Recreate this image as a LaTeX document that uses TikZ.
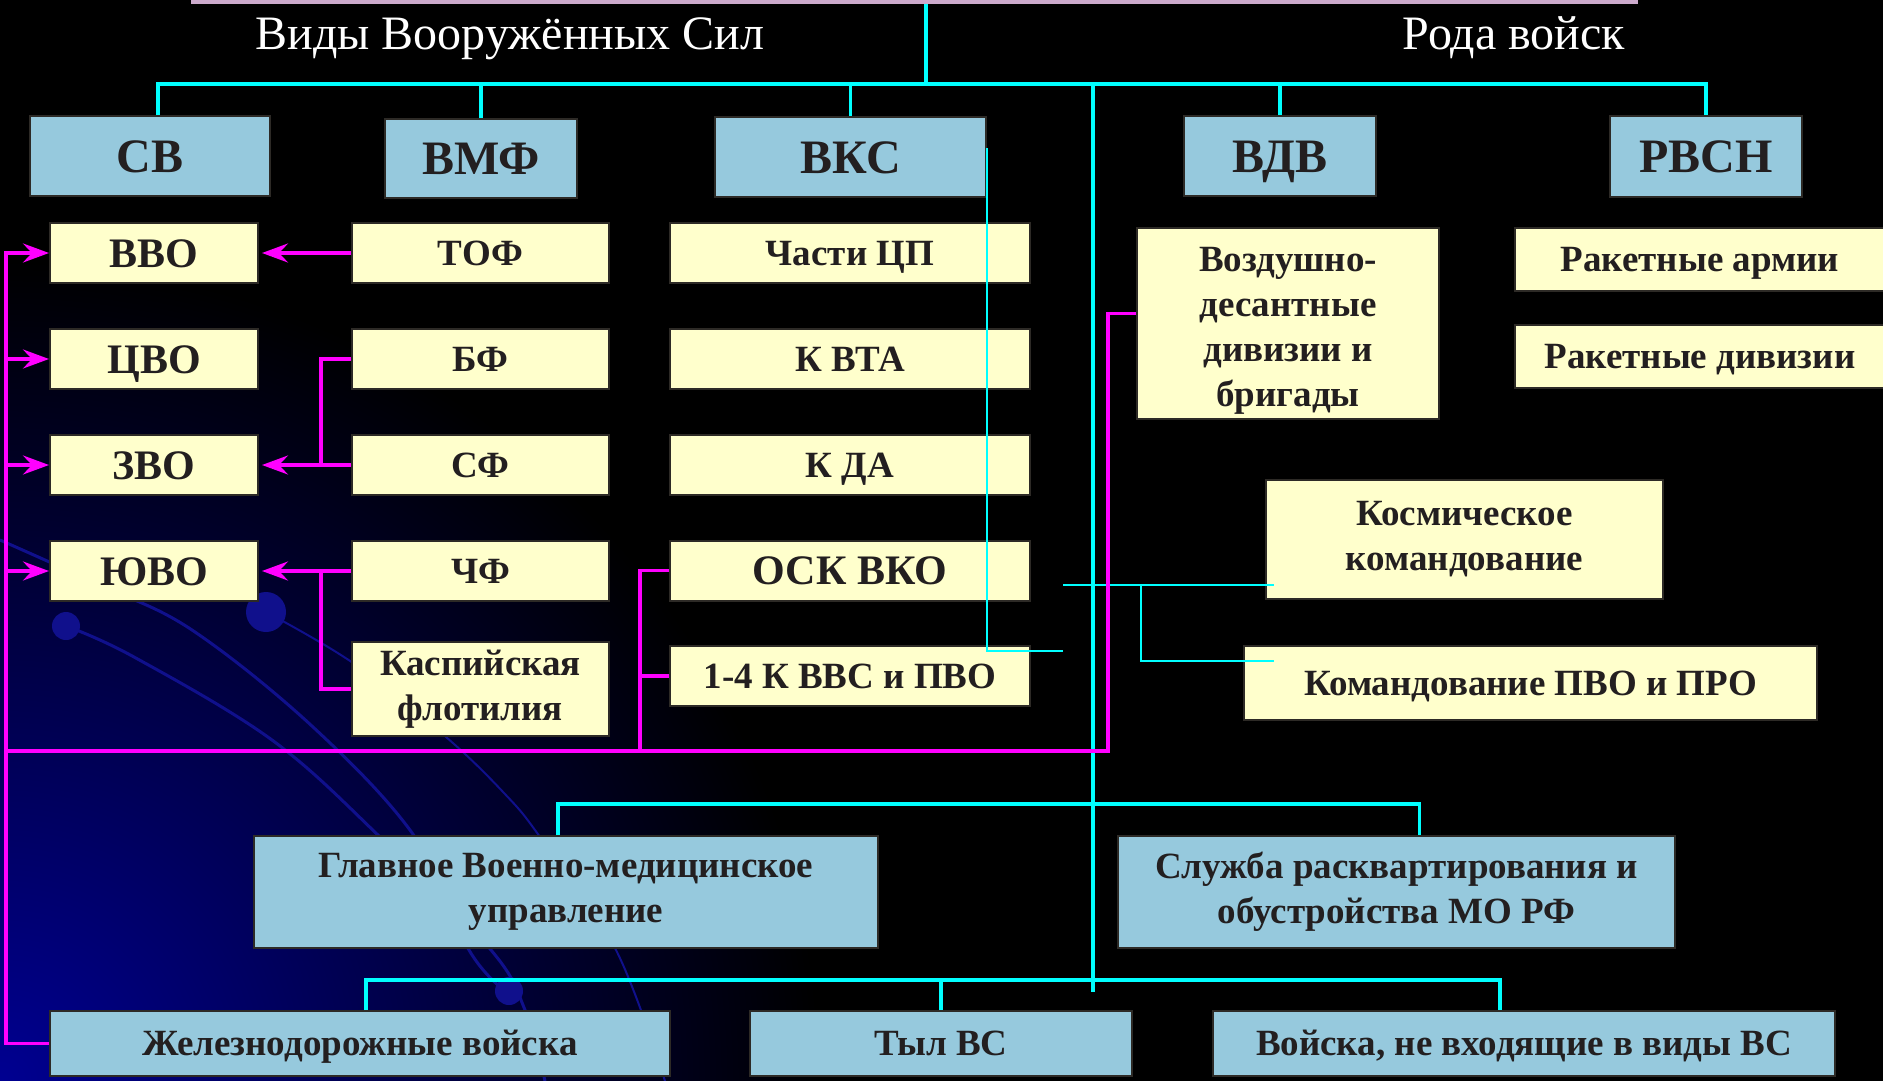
\documentclass[tikz,border=0pt]{standalone}
\usepackage{fontspec}
\setmainfont{Liberation Serif}
\usepackage{tikz}
\usetikzlibrary{positioning,arrows.meta,calc}
\definecolor{vidblue}{RGB}{150,201,221}
\definecolor{partyellow}{RGB}{255,255,204}
\definecolor{boxline}{RGB}{45,42,38}
\definecolor{ink}{RGB}{35,31,32}
\definecolor{headpink}{RGB}{204,170,204}
\definecolor{navy}{RGB}{0,0,145}
\definecolor{decoblue}{RGB}{16,16,140}
\definecolor{linecyan}{RGB}{0,255,255}
\definecolor{linemag}{RGB}{255,0,255}

\begin{document}
\begin{tikzpicture}[x=1pt, y=-1pt,
    vid/.style={draw=boxline, line width=2pt, fill=vidblue, text=ink, inner sep=0pt, align=center, font=\bfseries\fontsize{37}{45}\selectfont},
    vidtop/.style={font=\bfseries\fontsize{48}{54}\selectfont, text height=32pt, text depth=0pt},
    part/.style={draw=boxline, line width=2pt, fill=partyellow, text=ink, inner sep=0pt, align=center, font=\bfseries\fontsize{37}{45}\selectfont},
    okrug/.style={font=\bfseries\fontsize{42}{48}\selectfont, text height=28pt, text depth=0pt},
    oneline/.style={text height=24.5pt, text depth=0pt},
    heading/.style={text=white, anchor=base, inner sep=0pt, font=\fontsize{48}{52}\selectfont},
    trunk/.style={linecyan, line width=3.5pt},
    thinlink/.style={linecyan, line width=1.6pt},
    mlink/.style={linemag, line width=3.5pt},
    marr/.style={-{Stealth[length=26pt,width=19pt,inset=9pt]}},
    deco/.style={decoblue, line width=3pt},
    blob/.style={fill=decoblue}]
    \useasboundingbox (0,0) rectangle (1883,1081);
    % Фон
    \fill[black] (0,0) rectangle (1883,1081);
    \begin{scope}
        \clip (0,0) rectangle (1883,1081);
        \shade[inner color=navy, outer color=black] (0,1081) circle (820);
        \draw[deco] plot[smooth, tension=0.6] coordinates {(0,540) (100,585) (192,630) (313,727) (415,837) (469,950) (504,990)};
        \draw[deco] plot[smooth, tension=0.6] coordinates {(66,626) (134,657) (272,740) (380,837) (491,950) (525,1010) (545,1081)};
        \draw[deco, line width=2pt] plot[smooth, tension=0.6] coordinates {(266,612) (353,663) (446,737) (504,793) (540,837) (616,950) (665,1081)};
        \fill[blob] (66,626) circle (14);
        \fill[blob] (266,612) circle (20);
        \fill[blob] (509,991) circle (14);
    \end{scope}
    % Заголовки
    \node[fill=headpink, minimum width=1447pt, minimum height=8pt, inner sep=0pt] (head) at (914.5,0) {};
    \node[heading] (tvid) at (510,50) {Виды Вооружённых Сил};
    \node[heading] (trod) at (1514,50) {Рода войск};
    % Виды и рода войск
    \node[vid, vidtop, minimum width=240pt, minimum height=80pt] (sv) at (150,156) {СВ};
    \node[vid, vidtop, minimum width=192pt, minimum height=79pt] (vmf) at (481,158.5) {ВМФ};
    \node[vid, vidtop, minimum width=271pt, minimum height=80pt] (vks) at (850.5,157) {ВКС};
    \node[vid, vidtop, minimum width=192pt, minimum height=80pt] (vdv) at (1280,156) {ВДВ};
    \node[vid, vidtop, minimum width=192pt, minimum height=81pt] (rvsn) at (1706,156.5) {РВСН};
    % Округа
    \foreach \n/\t [count=\i from 0] in {vvo/ВВО, cvo/ЦВО, zvo/ЗВО, yuvo/ЮВО}
        \node[part, okrug, minimum width=208pt, minimum height=60pt] (\n) at (154,253+106*\i) {\t};
    % Флоты
    \foreach \n/\t [count=\i from 0] in {tof/ТОФ, bf/БФ, sf/СФ, chf/ЧФ}
        \node[part, oneline, minimum width=257pt, minimum height=60pt] (\n) at (480.5,253+106*\i) {\t};
    \node[part, minimum width=257pt, minimum height=94pt] (kasp) at (480.5,689) {Каспийская\\флотилия};
    % ВКС
    \foreach \n/\t [count=\i from 0] in {chcp/Части ЦП, kvta/К ВТА, kda/К ДА}
        \node[part, oneline, minimum width=360pt, minimum height=60pt] (\n) at (850,253+106*\i) {\t};
    \node[part, okrug, minimum width=360pt, minimum height=60pt] (osk) at (850,570.5) {ОСК ВКО};
    \node[part, oneline, minimum width=360pt, minimum height=60pt] (k14) at (850,676) {1-4 К ВВС и ПВО};
    % ВДВ, РВСН
    \node[part, minimum width=302pt, minimum height=191pt] (vdd) at (1288,323.5) {\rule{0pt}{39pt}Воздушно-\\десантные\\дивизии и\\бригады};
    \node[part, oneline, minimum width=370pt, minimum height=63pt] (rarm) at (1700,259.5) {Ракетные армии};
    \node[part, oneline, minimum width=370pt, minimum height=63pt] (rdiv) at (1700,356.5) {Ракетные дивизии};
    \node[part, minimum width=397pt, minimum height=119pt] (kosm) at (1464.5,539.5) {Космическое\\командование};
    \node[part, oneline, minimum width=573pt, minimum height=74pt] (pvo) at (1530.5,683) {Командование ПВО и ПРО};
    % Нижние блоки
    \node[vid, minimum width=624pt, minimum height=112pt] (gvmu) at (566,892) {Главное Военно-медицинское\\управление};
    \node[vid, minimum width=557pt, minimum height=112pt] (skv) at (1396.5,892) {Служба расквартирования и\\обустройства МО РФ};
    \node[vid, oneline, minimum width=620pt, minimum height=65pt] (zhd) at (360,1043.5) {Железнодорожные войска};
    \node[vid, oneline, minimum width=382pt, minimum height=65pt] (tyl) at (941,1043.5) {Тыл ВС};
    \node[vid, oneline, minimum width=622pt, minimum height=65pt] (vne) at (1524,1043.5) {Войска, не входящие в виды ВС};
    % Голубые связи
    \coordinate (hub) at (926,84);
    \draw[trunk] (head.south -| hub) -- (hub);
    \draw[trunk] ([xshift=8pt]sv.north) |- (hub) -| (rvsn.north);
    \foreach \n in {vmf,vks,vdv}
        \draw[trunk] (\n.north) -- (\n.north |- hub);
    \coordinate (spine) at (1093,84);
    \coordinate (spineend) at (1093,992);
    \coordinate (bus1) at (1093,804);
    \coordinate (bus2) at (1093,980);
    \draw[trunk] (spine) -- (spineend);
    \draw[trunk] ([xshift=-8pt]gvmu.north) |- (bus1) -| ([xshift=23pt]skv.north);
    \draw[trunk] ([xshift=6pt]zhd.north) |- (bus2) -| ([xshift=-24pt]vne.north);
    \draw[trunk] (tyl.north) -- (tyl.north |- bus2);
    % Тонкие линии
    \coordinate (kv) at (1063,651);
    \coordinate (kk) at (1063,585);
    \coordinate (kb) at (1141,585);
    \draw[thinlink] ([yshift=9pt]vks.east) |- (kv);
    \draw[thinlink] (kk) -- ($(kk -| kosm.west)+(9pt,0)$);
    \draw[thinlink] (kb) |- ($(pvo.west)+(31pt,22pt)$);
    % Розовые связи
    \coordinate (mx) at (6,253);
    \draw[mlink, marr] (zhd.west) -| (mx) -- (vvo.west);
    \foreach \n in {cvo,zvo,yuvo}
        \draw[mlink, marr] (mx |- \n.west) -- (\n.west);
    \draw[mlink, marr, shorten >=3pt] (tof.west) -- (vvo.east);
    \draw[mlink] (bf.west) -- ++(-30pt,0) |- (sf.west);
    \draw[mlink, marr, shorten >=3pt] (sf.west) -- (zvo.east);
    \draw[mlink] (kasp.west) -- ++(-30pt,0) |- (chf.west);
    \draw[mlink, marr, shorten >=3pt] (chf.west) -- (yuvo.east);
    \coordinate (mbus) at (1108,751);
    \coordinate (vksbr) at (640,751);
    \draw[mlink] (mx |- mbus) -- (mbus) |- ([yshift=10pt]vdd.west);
    \draw[mlink] (osk.west) -| (vksbr);
    \draw[mlink] (k14.west) -- (k14.west -| vksbr);
\end{tikzpicture}
\end{document}
